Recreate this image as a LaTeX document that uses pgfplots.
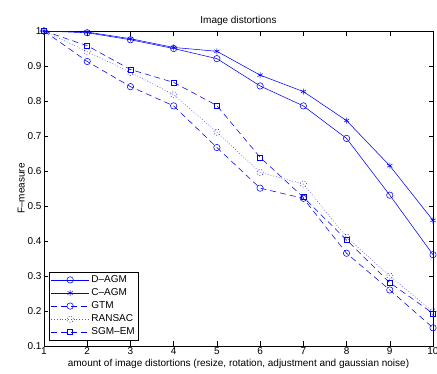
\documentclass[border=0pt]{standalone}
\usepackage{fontspec}
\setmainfont{Liberation Sans}
\usepackage{pgfplots}
\pgfplotsset{compat=1.18}
\begin{document}
\begin{tikzpicture}[x=1pt,y=1pt]
\useasboundingbox (-44,-28) rectangle (393,346);
\begin{axis}[
  scale only axis, width=389pt, height=315pt,
  anchor=south west, at={(0,0)},
  xmin=1, xmax=10, ymin=0.1, ymax=1,
  xtick={1,...,10}, ytick={0.1,0.2,...,1.0},
  tick align=inside, tick pos=both,
  major tick length=4.5pt,
  tick style={black, line width=0.5pt},
  axis line style={black, line width=0.7pt},
  /pgf/number format/assume math mode=true,
  tick label style={font=\fontsize{10}{11}\selectfont},
  xticklabel style={yshift=2pt},
  yticklabel style={/pgf/number format/fixed, /pgf/number format/precision=1, xshift=1pt},
  title={Image distortions}, title style={font=\fontsize{10}{11}\selectfont, yshift=-4pt},
  xlabel={amount of image distortions (resize, rotation, adjustment and gaussian noise)},
  xlabel style={font=\fontsize{10}{11}\selectfont, yshift=2pt},
  ylabel={F--measure}, ylabel style={font=\fontsize{10}{11}\selectfont, yshift=-4pt},
  legend style={at={(0.013,0.018)}, anchor=south west, font=\fontsize{10}{12}\selectfont,
    draw=black, line width=0.7pt, inner sep=1.5pt, row sep=0.6pt},
  legend cell align=left,
  legend image code/.code={\draw[mark repeat=2,mark phase=2] plot coordinates {(0pt,0pt) (19pt,0pt) (38pt,0pt)};},
  every axis plot/.append style={line width=0.55pt, mark options={solid}},
]
\addplot[blue, mark=o, mark size=3.2pt] coordinates {
(1,1.0) (2,0.995) (3,0.975) (4,0.95) (5,0.921) (6,0.843) (7,0.786) (8,0.693) (9,0.531) (10,0.361)};
\addlegendentry{D--AGM}
\addplot[blue, mark=asterisk, mark size=3pt] coordinates {
(1,1.0) (2,0.997) (3,0.978) (4,0.953) (5,0.942) (6,0.874) (7,0.827) (8,0.744) (9,0.615) (10,0.459)};
\addlegendentry{C--AGM}
\addplot[blue, mark=o, mark size=3.2pt, dash pattern=on 6pt off 4pt] coordinates {
(1,1.0) (2,0.913) (3,0.841) (4,0.786) (5,0.667) (6,0.551) (7,0.522) (8,0.365) (9,0.26) (10,0.152)};
\addlegendentry{GTM}
\addplot[blue!70, mark=o, mark size=3.2pt, mark options={blue}, dash pattern=on 0.8pt off 2pt] coordinates {
(1,1.0) (2,0.941) (3,0.882) (4,0.818) (5,0.711) (6,0.596) (7,0.563) (8,0.411) (9,0.3) (10,0.198)};
\addlegendentry{RANSAC}
\addplot[blue, mark=square, mark size=2.5pt, dash pattern=on 6pt off 4pt] coordinates {
(1,1.0) (2,0.958) (3,0.89) (4,0.853) (5,0.787) (6,0.639) (7,0.525) (8,0.403) (9,0.281) (10,0.193)};
\addlegendentry{SGM--EM}
\end{axis}
\end{tikzpicture}
\end{document}
